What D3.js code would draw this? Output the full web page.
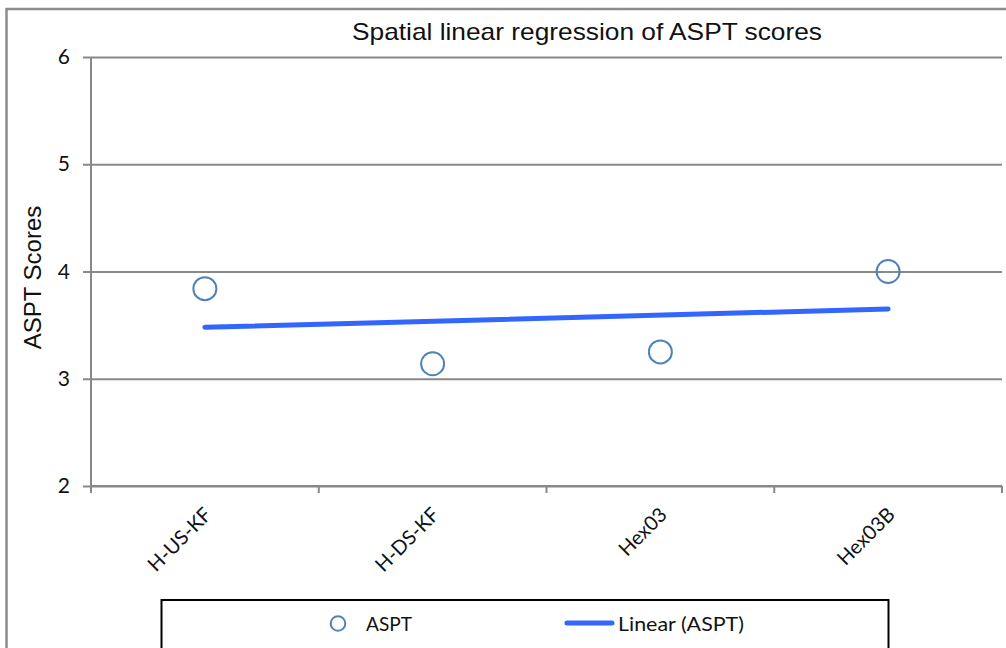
<!DOCTYPE html>
<html>
<head>
<meta charset="utf-8">
<script src="https://cdn.jsdelivr.net/npm/d3@7"></script>
<style>
  body { margin: 0; background: #fff; }
  svg { display: block; }
</style>
</head>
<body>
<div id="chart"></div>
<script>
// data
var sites = ["H-US-KF", "H-DS-KF", "Hex03", "Hex03B"];
var asptScores = [3.84, 3.14, 3.25, 4.0];
var trendEnds = [3.48, 3.65];   // Linear (ASPT) at first and last site
var yTicks = [2, 3, 4, 5, 6];

var W = 1006, H = 648;
var margin = {top: 57, right: 4, bottom: 162, left: 91};
var width = W - margin.left - margin.right;
var height = H - margin.top - margin.bottom;

var svg = d3.select("#chart").append("svg")
  .attr("width", W)
  .attr("height", H);

// outer chart frame
svg.append("rect")
  .attr("x", 6.5).attr("y", 9)
  .attr("width", 1010).attr("height", 660)
  .style("fill", "none")
  .style("stroke", "#8c8c8c")
  .style("stroke-width", 2.5);

var g = svg.append("g")
  .attr("transform", "translate(" + margin.left + "," + margin.top + ")");

var x = d3.scaleBand().domain(sites).range([0, width]);
var y = d3.scaleLinear().domain([2, 6]).range([height, 0]);

// gridlines + y axis
var yAxis = g.append("g")
  .call(d3.axisLeft(y).tickValues(yTicks).tickSize(-width).tickFormat(d3.format("d")).tickPadding(21));
yAxis.select(".domain").remove();
yAxis.selectAll(".tick line")
  .style("stroke", "#888")
  .style("stroke-width", 2);
yAxis.selectAll(".tick text")
  .style("font-family", "Lato, 'Open Sans', sans-serif")
  .style("font-size", "21px")
  .style("fill", "#111");
// small outside tick marks
yAxis.selectAll(".tick").append("line")
  .attr("x1", -8).attr("x2", 0)
  .style("stroke", "#888")
  .style("stroke-width", 2);

// vertical y axis line
g.append("line")
  .attr("x1", 0).attr("x2", 0)
  .attr("y1", y(6)).attr("y2", y(2))
  .style("stroke", "#888")
  .style("stroke-width", 2);

// x axis line and boundary ticks
g.append("line")
  .attr("x1", 0).attr("x2", width)
  .attr("y1", y(2)).attr("y2", y(2))
  .style("stroke", "#888")
  .style("stroke-width", 2);

var bounds = sites.map(function(s){ return x(s); }).concat([x(sites[sites.length-1]) + x.bandwidth()]);
g.selectAll(".xtick").data(bounds).enter().append("line")
  .attr("x1", function(d){ return d; }).attr("x2", function(d){ return d; })
  .attr("y1", y(2)).attr("y2", y(2) + 7)
  .style("stroke", "#888")
  .style("stroke-width", 2);

// rotated category labels
g.selectAll(".xlab").data(sites).enter().append("text")
  .attr("transform", function(d){
    return "translate(" + (x(d) + x.bandwidth()/2 + 3) + "," + (y(2) + 25) + ") rotate(-45)";
  })
  .attr("text-anchor", "end")
  .attr("dy", "0.35em")
  .style("font-family", "Lato, 'Open Sans', sans-serif")
  .style("font-size", "20px")
  .style("fill", "#111")
  .text(function(d){ return d; });

// linear trend
var first = sites[0], last = sites[sites.length-1];
g.append("line")
  .attr("x1", x(first) + x.bandwidth()/2)
  .attr("x2", x(last) + x.bandwidth()/2)
  .attr("y1", y(trendEnds[0]))
  .attr("y2", y(trendEnds[1]))
  .style("stroke", "#3366ff")
  .style("stroke-width", 5)
  .style("stroke-linecap", "round");

// points
g.selectAll(".pt").data(asptScores).enter().append("circle")
  .attr("cx", function(d, i){ return x(sites[i]) + x.bandwidth()/2; })
  .attr("cy", function(d){ return y(d); })
  .attr("r", 11.5)
  .style("fill", "none")
  .style("stroke", "#4f81bd")
  .style("stroke-width", 2);

// title
svg.append("text")
  .attr("x", 352).attr("y", 40)
  .attr("textLength", 470)
  .attr("lengthAdjust", "spacingAndGlyphs")
  .style("font-family", "'Liberation Sans', Arial, sans-serif")
  .style("font-size", "24px")
  .style("fill", "#111")
  .text("Spatial linear regression of ASPT scores");

// y axis title
svg.append("text")
  .attr("transform", "translate(41," + (margin.top + y(4) + 6) + ") rotate(-90)")
  .attr("text-anchor", "middle")
  .style("font-family", "'Liberation Sans', Arial, sans-serif")
  .style("font-size", "24px")
  .style("fill", "#111")
  .text("ASPT Scores");

// legend
var legend = svg.append("g");
legend.append("rect")
  .attr("x", 161.5).attr("y", 600)
  .attr("width", 727).attr("height", 80)
  .style("fill", "#fff")
  .style("stroke", "#000")
  .style("stroke-width", 2);
legend.append("circle")
  .attr("cx", 338).attr("cy", 623.5).attr("r", 7.3)
  .style("fill", "none")
  .style("stroke", "#4f81bd")
  .style("stroke-width", 2);
legend.append("text")
  .attr("x", 366).attr("y", 631)
  .attr("textLength", 46)
  .attr("lengthAdjust", "spacingAndGlyphs")
  .style("font-family", "Lato, 'Open Sans', sans-serif")
  .style("font-size", "20px")
  .style("fill", "#111")
  .text("ASPT");
legend.append("line")
  .attr("x1", 567).attr("x2", 612)
  .attr("y1", 623).attr("y2", 623)
  .style("stroke", "#3366ff")
  .style("stroke-width", 5)
  .style("stroke-linecap", "round");
legend.append("text")
  .attr("x", 618).attr("y", 631)
  .attr("textLength", 126)
  .attr("lengthAdjust", "spacingAndGlyphs")
  .style("font-family", "Lato, 'Open Sans', sans-serif")
  .style("font-size", "20px")
  .style("fill", "#111")
  .text("Linear (ASPT)");
</script>
</body>
</html>
